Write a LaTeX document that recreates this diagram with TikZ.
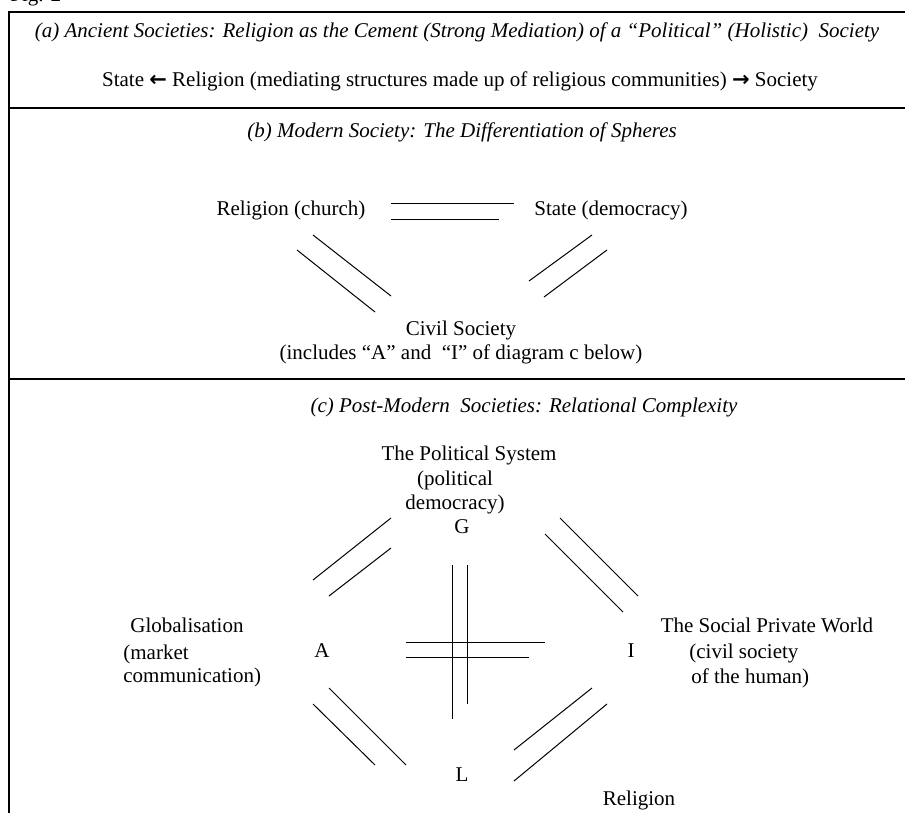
\documentclass[tikz,border=0pt]{standalone}
\usepackage{fontspec}
\setmainfont{Liberation Serif}
\newfontfamily\arrowfont{DejaVu Sans}
\begin{document}
\begin{tikzpicture}[x=0.5pt,y=-0.5pt,
  lbl/.style={inner sep=0pt, anchor=base, font=\fontsize{10.5}{12.25}\selectfont},
  lblw/.style={lbl, anchor=base west},
  ttl/.style={lbl, font=\fontsize{10.5}{12.25}\selectfont\itshape},
  frame/.style={line width=0.7pt, line cap=rect},
  link/.style={line width=0.5pt}]
\useasboundingbox (0,0) rectangle (905,813);
% frame
\coordinate (tl) at (9,12);
\coordinate (tr) at (905,12);
\coordinate (bl) at (9,813);
\coordinate (m1l) at (9,108);
\coordinate (m1r) at (905,108);
\coordinate (m2l) at (9,379);
\coordinate (m2r) at (905,379);
\draw[frame] (tr) -- (tl) -- (bl);
\draw[frame] (m1l) -- (m1r);
\draw[frame] (m2l) -- (m2r);
\node[lblw] (fig) at (10,2) {Fig. 2};
% (a)
\node[ttl] (ta) at (457,38) {(a) Ancient Societies: Religion as the Cement (Strong Mediation) of a “Political” (Holistic)\ \ Society};
\node[lbl] (sa) at (460,87) {State {\arrowfont\bfseries ←} Religion (mediating structures made up of religious communities) {\arrowfont\bfseries →} Society};
% (b)
\node[ttl] (tb) at (462,138) {(b) Modern Society: The Differentiation of Spheres};
\node[lbl] (relb) at (291,215) {Religion (church)};
\node[lbl] (stateb) at (611,215) {State (democracy)};
\node[lbl] (civ1) at (461,335) {Civil Society};
\node[lbl] (civ2) at (461,359) {(includes “A” and\ \ “I” of diagram c below)};
\coordinate (b1a) at (391,203); \coordinate (b1b) at (514,203);
\coordinate (b2a) at (391,219); \coordinate (b2b) at (499,219);
\coordinate (b3a) at (313,235); \coordinate (b3b) at (391,296);
\coordinate (b4a) at (297,250); \coordinate (b4b) at (375,312);
\coordinate (b5a) at (592,235); \coordinate (b5b) at (529,281);
\coordinate (b6a) at (607,250); \coordinate (b6b) at (544,297);
\draw[link] (b1a) -- (b1b);
\draw[link] (b2a) -- (b2b);
\draw[link] (b3a) -- (b3b);
\draw[link] (b4a) -- (b4b);
\draw[link] (b5a) -- (b5b);
\draw[link] (b6a) -- (b6b);
% (c)
\node[ttl] (tc) at (524,412) {(c) Post-Modern\ \ Societies: Relational Complexity};
\node[lbl] (pol1) at (469,460) {The Political System};
\node[lbl] (pol2) at (455,485) {(political};
\node[lbl] (pol3) at (455,509) {democracy)};
\node[lbl] (G) at (462,533) {G};
\node[lbl] (A) at (322,657) {A};
\node[lbl] (I) at (631,657) {I};
\node[lbl] (L) at (462,781) {L};
\node[lblw] (glob1) at (130,632) {Globalisation};
\node[lblw] (glob2) at (123,659) {(market};
\node[lblw] (glob3) at (123,682) {communication)};
\node[lbl] (spw1) at (767,632) {The Social Private World};
\node[lblw] (spw2) at (689,658) {(civil society};
\node[lblw] (spw3) at (691,683) {of the human)};
\node[lbl] (relc) at (639,805) {Religion};
% connectors in (c)
\coordinate (c1a) at (313,580); \coordinate (c1b) at (391,518);
\coordinate (c2a) at (329,596); \coordinate (c2b) at (391,548);
\coordinate (c3a) at (560,518); \coordinate (c3b) at (638,596);
\coordinate (c4a) at (545,534); \coordinate (c4b) at (623,612);
\coordinate (c5a) at (313,704); \coordinate (c5b) at (375,765);
\coordinate (c6a) at (329,688); \coordinate (c6b) at (406,765);
\coordinate (c7a) at (514,750); \coordinate (c7b) at (592,688);
\coordinate (c8a) at (514,781); \coordinate (c8b) at (607,704);
\coordinate (v1a) at (452,565); \coordinate (v1b) at (452,719);
\coordinate (v2a) at (467,565); \coordinate (v2b) at (467,704);
\coordinate (h1a) at (406,642); \coordinate (h1b) at (545,642);
\coordinate (h2a) at (406,657); \coordinate (h2b) at (529,657);
\foreach \p in {c1,c2,c3,c4,c5,c6,c7,c8,v1,v2,h1,h2}
  \draw[link] (\p a) -- (\p b);
\end{tikzpicture}
\end{document}
